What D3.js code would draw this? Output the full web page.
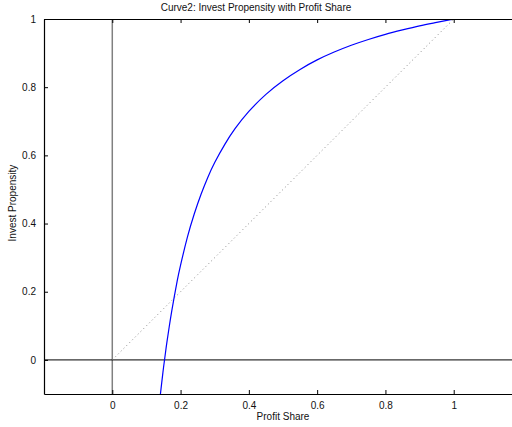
<!DOCTYPE html>
<html>
<head>
<meta charset="utf-8">
<script src="https://cdn.jsdelivr.net/npm/d3@7"></script>
<style>
  body { margin: 0; background: #fff; }
  text { font-family: "Liberation Sans", Arial, sans-serif; fill: #111; }
</style>
</head>
<body>
<div class="chart"></div>
<script>
// values
const profitShare = [0.141, 0.145, 0.15, 0.155, 0.16, 0.17, 0.18, 0.19, 0.2, 0.22, 0.24, 0.26, 0.28, 0.3,
                     0.33, 0.36, 0.4, 0.45, 0.5, 0.55, 0.6, 0.65, 0.7, 0.75, 0.8, 0.85, 0.9, 0.95, 1.0];
const investProp  = [-0.100, -0.065, -0.023, 0.015, 0.052, 0.118, 0.177, 0.231, 0.278, 0.360, 0.428, 0.486, 0.536, 0.579,
                     0.633, 0.679, 0.729, 0.779, 0.819, 0.852, 0.880, 0.903, 0.923, 0.940, 0.955, 0.968, 0.980, 0.990, 1.0];
const diagonal = [[0, 0], [1, 1]];
const xTicks = [0, 0.2, 0.4, 0.6, 0.8, 1];
const yTicks = [0, 0.2, 0.4, 0.6, 0.8, 1];

const width = 512, height = 427;
const margin = ({left: 44, top: 19, bottom: 394, right: 522});

const svg = d3.select('.chart').append('svg')
    .attr('width', width)
    .attr('height', height);

const xScale = d3.scaleLinear()
    .domain([-0.2, 1.2])
    .range([margin.left, margin.right]);

const yScale = d3.scaleLinear()
    .domain([-0.1, 1])
    .range([margin.bottom, margin.top]);

svg.append('clipPath').attr('id', 'clip')
    .append('rect')
    .attr('x', margin.left).attr('y', margin.top)
    .attr('width', margin.right - margin.left).attr('height', margin.bottom - margin.top);

const plot = svg.append('g').attr('clip-path', 'url(#clip)');

// zero lines
plot.append('line')
    .attr('x1', xScale(0)).attr('x2', xScale(0))
    .attr('y1', margin.top).attr('y2', margin.bottom)
    .attr('stroke', '#808080').attr('stroke-width', 1.5);

plot.append('line')
    .attr('x1', margin.left).attr('x2', margin.right)
    .attr('y1', yScale(0)).attr('y2', yScale(0))
    .attr('stroke', '#000').attr('stroke-width', 1);

// dotted 45 degree line
plot.append('path')
    .attr('d', d3.line().x(d => xScale(d[0])).y(d => yScale(d[1]))(diagonal))
    .attr('fill', 'none')
    .attr('stroke', '#888')
    .attr('stroke-width', 1)
    .attr('stroke-dasharray', '1,3');

const pts = profitShare.map((v, i) => [v, investProp[i]]);
plot.append('path')
    .attr('d', d3.line()
        .x(d => xScale(d[0]))
        .y(d => yScale(d[1]))
        .curve(d3.curveNatural)(pts))
    .attr('fill', 'none')
    .attr('stroke', '#0000ff')
    .attr('stroke-width', 1.2);

// axes (MATLAB style, ticks pointing in)
const xAxis = d3.axisBottom(xScale).tickValues(xTicks).tickFormat(d3.format('~g'))
    .tickSizeInner(-4).tickSizeOuter(0).tickPadding(8);
const xAxisTop = d3.axisTop(xScale).tickValues(xTicks).tickFormat('')
    .tickSizeInner(-4).tickSizeOuter(0);
const yAxis = d3.axisLeft(yScale).tickValues(yTicks).tickFormat(d3.format('~g'))
    .tickSizeInner(-4).tickSizeOuter(0).tickPadding(8);

svg.append('g')
    .attr('class', 'axis x-axis')
    .attr('transform', `translate(0, ${margin.bottom})`)
    .call(xAxis);

svg.append('g')
    .attr('class', 'axis x-axis-top')
    .attr('transform', `translate(0, ${margin.top})`)
    .call(xAxisTop);

svg.append('g')
    .attr('class', 'axis y-axis')
    .attr('transform', `translate(${margin.left}, 0)`)
    .call(yAxis);

svg.selectAll('.axis path').attr('stroke', '#000').attr('stroke-width', 1.2);
svg.selectAll('.axis line').attr('stroke', '#000');
svg.selectAll('.axis text')
    .style('font-family', '"Liberation Sans", Arial, sans-serif')
    .style('font-size', '10px')
    .attr('fill', '#111');

// labels
svg.append('text')
    .attr('x', 256).attr('y', 11)
    .attr('text-anchor', 'middle')
    .style('font-size', '10px')
    .text('Curve2: Invest Propensity with Profit Share');

svg.append('text')
    .attr('x', xScale(0.5)).attr('y', 420)
    .attr('text-anchor', 'middle')
    .style('font-size', '10px')
    .text('Profit Share');

svg.append('text')
    .attr('transform', `translate(16, ${yScale(0.46)}) rotate(-90)`)
    .attr('text-anchor', 'middle')
    .style('font-size', '10px')
    .text('Invest Propensity');
</script>
</body>
</html>
